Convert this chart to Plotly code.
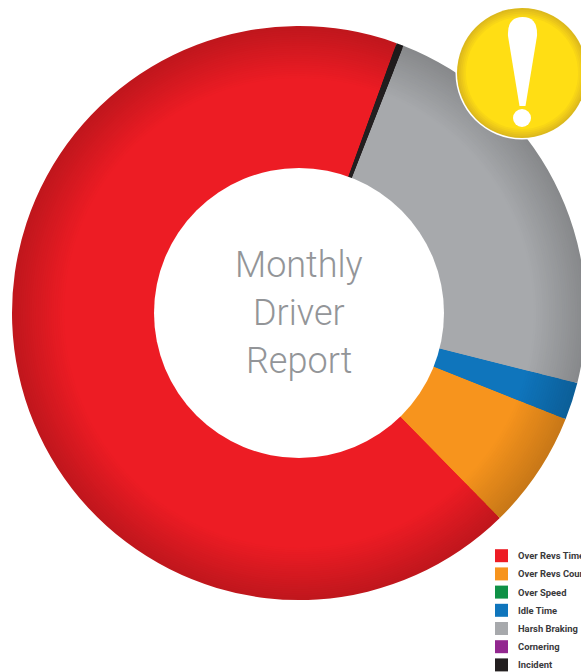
import plotly.graph_objects as go

categories = ["Over Revs Time", "Over Revs Count", "Over Speed", "Idle Time", "Harsh Braking", "Cornering", "Incident"]
values = [67.86, 6.64, 0, 2.1, 23.0, 0, 0.4]
colors = ["#ed1c24", "#f7941d", "#0f9146", "#0f75bc", "#a7a9ac", "#92278f", "#231f20"]
title_lines = ["Monthly", "Driver", "Report"]

W, H = 620, 672
CX, CY = 299, 313
R_OUT, R_IN = 287, 145


def fx(x):
    return x / W


def fy(y):
    return 1 - y / H


def shade(hex_color, k):
    r, g, b = (int(hex_color[i:i + 2], 16) for i in (1, 3, 5))
    return f"rgb({round(r * k)},{round(g * k)},{round(b * k)})"


fig = go.Figure()
steps = 24
rim = 52
for i in range(steps + 1):
    t = i / steps
    r = R_OUT - rim * t
    k = 0.81 + 0.19 * t
    fig.add_trace(go.Pie(
        labels=categories, values=values, sort=False, direction="counterclockwise", rotation=135.6,
        hole=(R_IN - 3) / r, marker=dict(colors=[shade(c, k) for c in colors], line=dict(width=0)),
        textinfo="none", hoverinfo="label+percent", showlegend=False,
        domain=dict(x=[fx(CX - r), fx(CX + r)], y=[fy(CY + r), fy(CY - r)]),
    ))

shapes = []
annotations = []


def circle(r, color, cx, cy):
    return dict(type="circle", xref="paper", yref="paper", x0=fx(cx - r), x1=fx(cx + r),
                y0=fy(cy + r), y1=fy(cy - r), fillcolor=color, line=dict(width=0), layer="above")


# clean inner edge of the ring
shapes.append(circle(R_IN, "#ffffff", CX, CY))

# centre title
for line, y in zip(title_lines, [265, 313, 361]):
    annotations.append(dict(text=line, x=fx(CX), y=fy(y), xref="paper", yref="paper", showarrow=False,
                            xanchor="center", yanchor="middle",
                            font=dict(family="Roboto", size=36, color="#939598", weight=300)))

# warning badge
BX, BY, BR = 522, 73, 65
shapes.append(circle(BR + 1.5, "#ffffff", BX, BY))
for j, col in enumerate(["#dcb91c", "#e4c01b", "#ebc71a", "#f2cf18", "#f8d616", "#ffde14"]):
    shapes.append(circle(BR - j * 1.8, col, BX, BY))
pts = [(519.5, 106), (508, 36), (507, 17), (522.5, 17), (538, 17), (537, 36), (525.5, 106)]
path = "M{},{} L{},{} Q{},{} {},{} Q{},{} {},{} L{},{} Z".format(
    *[v for x, y in pts for v in (round(fx(x), 5), round(fy(y), 5))])
shapes.append(dict(type="path", path=path, xref="paper", yref="paper", fillcolor="#ffffff", line=dict(width=0), layer="above"))
shapes.append(circle(9, "#ffffff", 522, 118))

# legend
for i, (name, col) in enumerate(zip(categories, colors)):
    yc = 555.7 + 18.2 * i
    shapes.append(dict(type="rect", xref="paper", yref="paper", x0=fx(495), x1=fx(508), y0=fy(yc + 6.5), y1=fy(yc - 6.5),
                       fillcolor=col, line=dict(width=0), layer="above"))
    annotations.append(dict(text=f"<b>{name}</b>", x=fx(516), y=fy(yc), xref="paper", yref="paper", showarrow=False,
                            xanchor="left", yanchor="middle",
                            font=dict(family="Roboto", size=9.4, color="#3a3a3c")))

fig.update_layout(width=W, height=H, margin=dict(l=0, r=0, t=0, b=0), paper_bgcolor="#ffffff",
                  shapes=shapes, annotations=annotations, showlegend=False)

fig.write_html("out.html", config={"displayModeBar": False},
               post_script="document.body.style.margin='0';document.documentElement.style.overflow='hidden';document.body.style.overflow='hidden';")
